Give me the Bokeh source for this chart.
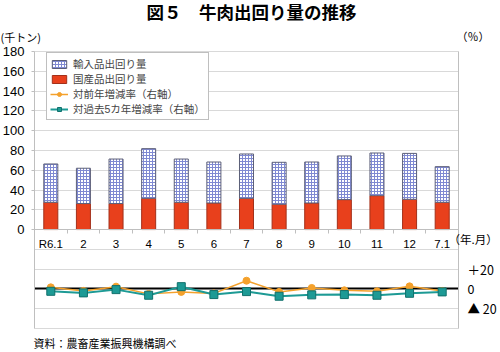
from bokeh.plotting import figure
from bokeh.models import (ColumnDataSource, Range1d, LinearAxis, FixedTicker,
                          Label, Legend, LegendItem, Grid)
from bokeh.transform import stack
from bokeh.embed import file_html
from bokeh.resources import INLINE

# ---- data ----
months = ["R6.1", "2", "3", "4", "5", "6", "7", "8", "9", "10", "11", "12", "7.1"]
domestic = [27.6, 26.3, 26.3, 31.6, 27.6, 26.9, 31.6, 25.6, 26.9, 30.3, 34.3, 30.6, 27.6]
imported = [38.7, 35.7, 45.0, 50.2, 43.7, 41.4, 44.8, 42.4, 41.4, 44.1, 43.1, 46.4, 36.0]
yoy = [1.6, -2.0, 2.3, -5.0, -3.0, -4.5, 8.3, -3.0, 1.0, -1.4, -2.4, 2.6, -2.0]
vs5y = [-2.4, -4.0, -0.7, -6.4, 2.3, -5.7, -2.7, -7.4, -6.0, -5.7, -6.4, -4.4, -3.0]
left_ticks = [0, 20, 40, 60, 80, 100, 120, 140, 160, 180]
grid_ticks = [-100, -80, -60, -40, -20, 0, 20, 40, 60, 80, 100, 120, 140, 160, 180]
pct_ticks = [-20, 0, 20]
pct_labels = ["▲ 20", "0", "＋20"]

JP = "Noto Sans CJK JP"
NUM = "Liberation Sans"
ORANGE = "#f4a12c"
TEAL = "#1d9a95"

W, H = 500, 352
# plot-area box inside the canvas (pixels)
PL, PR, PT, PB = 34, 458, 51, 328
n = len(months)
LMIN, LMAX = -100, 180          # left-axis span of the plot area
PCT_SHIFT = 60                  # right axis value = left value + 60
xpx = (PR - PL) / n
ypx = (PB - PT) / (LMAX - LMIN)
XS, XE = -0.5 - PL / xpx, n - 0.5 + (W - PR) / xpx
YS, YE = LMIN - (H - PB) / ypx, LMAX + PT / ypx

idx = list(range(n))
source = ColumnDataSource(dict(x=idx, dom=domestic, imp=imported, yoy=yoy, v5=vs5y))

p = figure(width=W, height=H, x_range=Range1d(XS, XE), y_range=Range1d(YS, YE),
           output_backend="svg", toolbar_location=None,
           min_border_left=0, min_border_right=0, min_border_top=0, min_border_bottom=0,
           x_axis_type=None, y_axis_type=None)
p.outline_line_color = None
p.background_fill_color = "white"
p.border_fill_color = "white"
p.extra_y_ranges = {"pct": Range1d(YS + PCT_SHIFT, YE + PCT_SHIFT)}

grid = Grid(dimension=1, ticker=FixedTicker(ticks=grid_ticks), grid_line_color="#d9d9d9",
            grid_line_width=1, cross_bounds=(-0.5, n - 0.5))
p.add_layout(grid)
zero = Grid(dimension=1, y_range_name="pct", ticker=FixedTicker(ticks=[0]),
            grid_line_color="black", grid_line_width=2, cross_bounds=(-0.5, n - 0.5))
p.add_layout(zero)

yaxis = LinearAxis(ticker=FixedTicker(ticks=left_ticks), fixed_location=-0.5,
                   bounds=(LMIN, LMAX), axis_line_color="#bfbfbf",
                   major_tick_line_color="#bfbfbf", major_tick_out=3, major_tick_in=0,
                   minor_tick_line_color=None, major_label_standoff=7,
                   major_label_text_font=NUM, major_label_text_font_size="13px",
                   major_label_text_color="black")
p.add_layout(yaxis, "left")

raxis = LinearAxis(y_range_name="pct", ticker=FixedTicker(ticks=pct_ticks),
                   major_label_overrides=dict(zip(pct_ticks, pct_labels)),
                   fixed_location=n - 0.5, bounds=(LMIN + PCT_SHIFT, LMAX + PCT_SHIFT),
                   axis_line_color="#bfbfbf", major_tick_line_color=None,
                   major_tick_out=0, major_tick_in=0, minor_tick_line_color=None,
                   major_label_standoff=9, major_label_text_font=JP,
                   major_label_text_font_size="12.5px", major_label_text_color="black")
p.add_layout(raxis, "right")

xaxis = LinearAxis(ticker=FixedTicker(ticks=idx, minor_ticks=[i - 0.5 for i in range(n + 1)]),
                   major_label_overrides=dict(zip(idx, months)), fixed_location=0,
                   bounds=(-0.5, n - 0.5),
                   axis_line_color="#bfbfbf", major_tick_line_color=None,
                   major_tick_out=0, major_tick_in=0,
                   minor_tick_line_color="#bfbfbf", minor_tick_out=4, minor_tick_in=0,
                   major_label_standoff=4, major_label_text_font=NUM,
                   major_label_text_font_size="11.5px", major_label_text_color="black")
p.add_layout(xaxis, "below")

r_dom = p.vbar(x="x", bottom=0, top="dom", width=0.43, source=source,
               fill_color="#e8401c", line_color="#a3301a", line_width=1)
r_imp = p.vbar(x="x", bottom=stack("dom"), top=stack("dom", "imp"), width=0.43, source=source,
               fill_color="white", line_color="#5c5f78", line_width=1,
               hatch_pattern="+", hatch_color="#7f89d2", hatch_scale=3, hatch_weight=1)

r_yl = p.line("x", "yoy", source=source, y_range_name="pct", line_color=ORANGE, line_width=1.5)
r_ym = p.scatter("x", "yoy", source=source, y_range_name="pct", marker="circle", size=7,
                 fill_color=ORANGE, line_color=ORANGE)
r_vl = p.line("x", "v5", source=source, y_range_name="pct", line_color=TEAL, line_width=2)
r_vm = p.scatter("x", "v5", source=source, y_range_name="pct", marker="square", size=8,
                 fill_color=TEAL, line_color="#11706c")

legend = Legend(items=[
    LegendItem(label="輸入品出回り量", renderers=[r_imp]),
    LegendItem(label="国産品出回り量", renderers=[r_dom]),
    LegendItem(label="対前年増減率（右軸）", renderers=[r_yl, r_ym]),
    LegendItem(label="対過去5カ年増減率（右軸）", renderers=[r_vl, r_vm]),
], location=(46, H - 120), label_text_font="Liberation Sans, Noto Sans CJK JP",
    label_text_font_size="10.5px",
    glyph_width=18, glyph_height=10, label_height=10, label_standoff=5, spacing=0,
    padding=3, margin=0, border_line_color="#808080", border_line_width=1,
    background_fill_color="white", background_fill_alpha=1)
p.add_layout(legend)


def lab(text, cx, cy, size, font=JP, align="left", bold=False):
    return Label(x=cx, y=H - cy, x_units="screen", y_units="screen", text=text,
                 text_font=font, text_font_size=size, text_align=align,
                 text_baseline="middle", text_color="black",
                 text_font_style="bold" if bold else "normal")


p.add_layout(lab("図５　牛肉出回り量の推移", 251, 11, "17.5px", align="center", bold=True))
p.add_layout(lab("(千トン)", 0, 36, "11px"))
p.add_layout(lab("（％）", 456, 35, "11px"))
p.add_layout(lab("（年.月）", 448, 238, "11.5px"))
p.add_layout(lab("資料：農畜産業振興機構調べ", 33, 342, "11px"))

html = file_html(p, INLINE)
open("out.html", "w").write(html)
